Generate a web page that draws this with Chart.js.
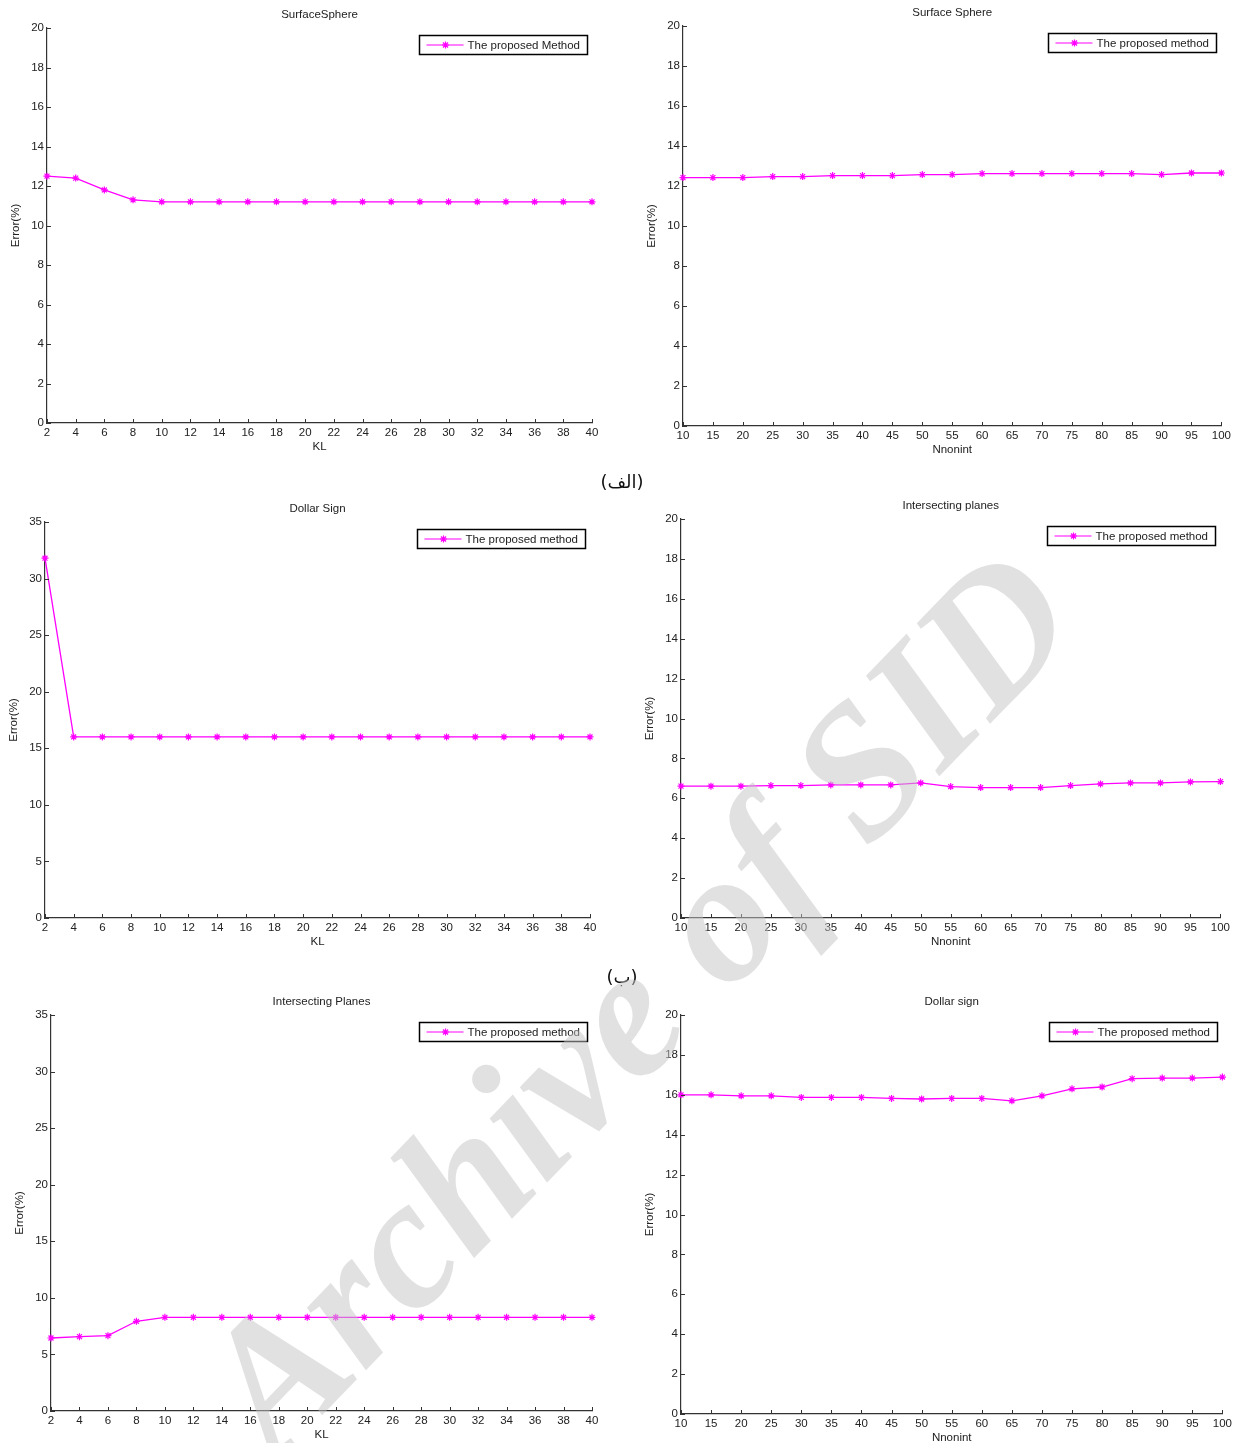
<!DOCTYPE html>
<html>
<head>
<meta charset="utf-8">
<script src="https://cdn.jsdelivr.net/npm/chart.js@4.4.1/dist/chart.umd.min.js"></script>
<style>
  html,body{margin:0;padding:0;background:#fff;}
  body{width:1236px;height:1443px;position:relative;overflow:hidden;}
  canvas{position:absolute;}
  .cap{position:absolute;font:18px "DejaVu Sans",sans-serif;color:#111;transform:translate(-50%,-50%);white-space:nowrap;}
  #wm{position:absolute;left:635px;top:1000px;transform:translate(-50%,-50%) rotate(-46deg);
      font:bold italic 187px "Liberation Serif","DejaVu Serif",serif;color:rgba(195,195,195,0.5);
      white-space:nowrap;pointer-events:none;z-index:5;line-height:1;}
</style>
</head>
<body>
<canvas id="c1"></canvas>
<canvas id="c2"></canvas>
<canvas id="c3"></canvas>
<canvas id="c4"></canvas>
<canvas id="c5"></canvas>
<canvas id="c6"></canvas>
<div class="cap" dir="rtl" style="left:622px;top:481px">(الف)</div>
<div class="cap" dir="rtl" style="left:622px;top:976px">(ب)</div>
<div id="wm">Archive of SID</div>
<script>
// ─── DATA ────────────────────────────────────────────────────────────────────
const KL      = [2,4,6,8,10,12,14,16,18,20,22,24,26,28,30,32,34,36,38,40];
const NNONINT = [10,15,20,25,30,35,40,45,50,55,60,65,70,75,80,85,90,95,100];

const Y_TICKS_20 = [0,2,4,6,8,10,12,14,16,18,20];
const Y_TICKS_35 = [0,5,10,15,20,25,30,35];

const sphereKL      = [12.5,12.4,11.8,11.3,11.2,11.2,11.2,11.2,11.2,11.2,11.2,11.2,11.2,11.2,11.2,11.2,11.2,11.2,11.2,11.2];
const sphereNnonint = [12.42,12.42,12.42,12.47,12.47,12.52,12.52,12.52,12.57,12.57,12.62,12.62,12.62,12.62,12.62,12.62,12.57,12.65,12.65];
const dollarKL      = [31.8,16.0,16.0,16.0,16.0,16.0,16.0,16.0,16.0,16.0,16.0,16.0,16.0,16.0,16.0,16.0,16.0,16.0,16.0,16.0];
const planesNnonint = [6.61,6.61,6.61,6.64,6.64,6.67,6.67,6.67,6.77,6.59,6.54,6.54,6.54,6.64,6.72,6.77,6.77,6.82,6.84];
const planesKL      = [6.45,6.57,6.66,7.93,8.28,8.28,8.28,8.28,8.28,8.28,8.28,8.28,8.28,8.28,8.28,8.28,8.28,8.28,8.28,8.28];
const dollarNnonint = [16.0,16.0,15.95,15.95,15.87,15.87,15.87,15.82,15.79,15.82,15.82,15.70,15.95,16.30,16.39,16.81,16.84,16.84,16.89];

// ─── STYLE / LAYOUT ──────────────────────────────────────────────────────────
const MAG='#ff00ff', INK='#222', FONT='Arial, "Liberation Sans", sans-serif', FS=11.5;
const PAD_L=45, PAD_T=30, PAD_R=10, PAD_B=35;
Chart.defaults.font.family=FONT;
Chart.defaults.font.size=FS;
Chart.defaults.color=INK;

function star(ctx,x,y,r){
  const d=r*0.72;
  ctx.beginPath();
  ctx.moveTo(x-r,y);ctx.lineTo(x+r,y);ctx.moveTo(x,y-r);ctx.lineTo(x,y+r);
  ctx.moveTo(x-d,y-d);ctx.lineTo(x+d,y+d);ctx.moveTo(x-d,y+d);ctx.lineTo(x+d,y-d);
  ctx.stroke();
}

// inward ticks, title above the box, boxed legend in the upper right corner
const matlabDeco={
  id:'matlabDeco',
  afterDraw(chart,args,o){
    const {ctx,chartArea:a,scales:{x,y}}=chart;
    ctx.save();
    ctx.strokeStyle='#333';ctx.lineWidth=1;
    ctx.beginPath();
    x.ticks.forEach(t=>{const px=Math.round(x.getPixelForValue(t.value))+0.5;ctx.moveTo(px,a.bottom);ctx.lineTo(px,a.bottom-4);});
    y.ticks.forEach(t=>{const py=Math.round(y.getPixelForValue(t.value))+0.5;ctx.moveTo(a.left,py);ctx.lineTo(a.left+4,py);});
    ctx.stroke();
    ctx.fillStyle=INK;ctx.font=`${FS}px ${FONT}`;ctx.textAlign='center';ctx.textBaseline='middle';
    ctx.fillText(o.title,(a.left+a.right)/2,a.top-13);
    const w=168,h=19,bx=Math.round(a.right-5-w)+0.5,by=Math.round(a.top+7)+0.5,my=by+h/2;
    ctx.fillStyle='#fff';ctx.fillRect(bx,by,w,h);
    ctx.strokeStyle='#000';ctx.lineWidth=1.5;ctx.strokeRect(bx,by,w,h);
    ctx.strokeStyle=MAG;ctx.lineWidth=1.2;
    ctx.beginPath();ctx.moveTo(bx+7,my);ctx.lineTo(bx+44,my);ctx.stroke();
    star(ctx,bx+26,my,3.5);
    ctx.fillStyle=INK;ctx.textAlign='left';
    ctx.fillText(chart.data.datasets[0].label,bx+48,my+0.5);
    ctx.restore();
  }
};

function makeChart(id,box,xs,ys,xTitle,xMin,xMax,yTicks,title,label){
  const cv=document.getElementById(id);
  cv.width=box.r-box.l+PAD_L+PAD_R; cv.height=box.b-box.t+PAD_T+PAD_B;
  cv.style.left=(box.l-PAD_L)+'px'; cv.style.top=(box.t-PAD_T)+'px';
  new Chart(cv,{
    type:'line',
    data:{datasets:[{label,data:xs.map((x,i)=>({x,y:ys[i]})),borderColor:MAG,borderWidth:1.3,
      pointStyle:'star',pointRadius:3.5,pointBorderColor:MAG,pointBackgroundColor:MAG,pointBorderWidth:1.2,
      tension:0,clip:false}]},
    options:{
      responsive:false,animation:false,events:[],
      layout:{padding:{top:PAD_T,right:PAD_R,left:0,bottom:0}},
      plugins:{legend:{display:false},tooltip:{enabled:false},matlabDeco:{title}},
      scales:{
        x:{type:'linear',min:xMin,max:xMax,
          afterBuildTicks:s=>{s.ticks=xs.map(v=>({value:v}));},
          afterFit:s=>{s.height=PAD_B;},
          grid:{display:false,drawTicks:false},border:{display:true,color:'#333',width:1.2},
          ticks:{padding:3,autoSkip:false,maxRotation:0,color:INK},
          title:{display:true,text:xTitle,color:INK,padding:{top:0,bottom:4}}},
        y:{min:0,max:yTicks[yTicks.length-1],
          afterBuildTicks:s=>{s.ticks=yTicks.map(v=>({value:v}));},
          afterFit:s=>{s.width=PAD_L;},
          grid:{display:false,drawTicks:false},border:{display:true,color:'#333',width:1.2},
          ticks:{padding:3,color:INK},
          title:{display:true,text:'Error(%)',color:INK,padding:{top:7,bottom:0}}}
      }
    },
    plugins:[matlabDeco]
  });
}

makeChart('c1',{l:47,t:28,r:592,b:423},KL,sphereKL,'KL',2,40,Y_TICKS_20,'SurfaceSphere','The proposed Method');
makeChart('c2',{l:683,t:26,r:1224,b:426},NNONINT,sphereNnonint,'Nnonint',10,100,Y_TICKS_20,'Surface Sphere','The proposed method');
makeChart('c3',{l:45,t:522,r:590,b:918},KL,dollarKL,'KL',2,40,Y_TICKS_35,'Dollar Sign','The proposed method');
makeChart('c4',{l:681,t:519,r:1223,b:918},NNONINT,planesNnonint,'Nnonint',10,100,Y_TICKS_20,'Intersecting planes','The proposed method');
makeChart('c5',{l:51,t:1015,r:592,b:1411},KL,planesKL,'KL',2,40,Y_TICKS_35,'Intersecting Planes','The proposed method');
makeChart('c6',{l:681,t:1015,r:1225,b:1414},NNONINT,dollarNnonint,'Nnonint',10,100,Y_TICKS_20,'Dollar sign','The proposed method');
</script>
</body>
</html>
